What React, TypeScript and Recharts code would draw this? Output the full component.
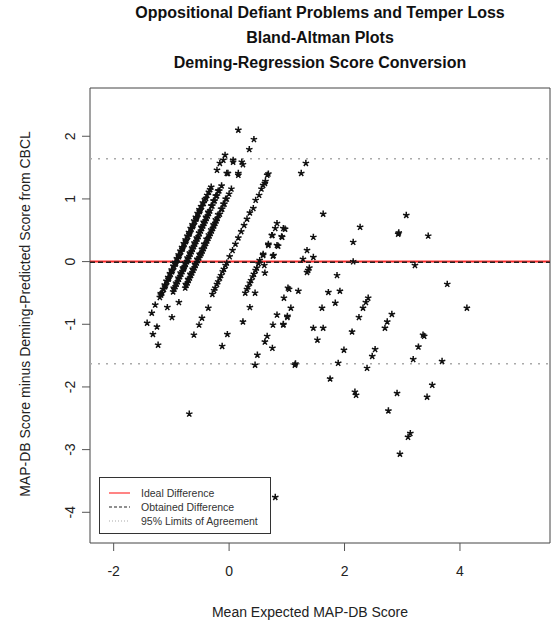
import { ScatterChart, Scatter, XAxis, YAxis, ReferenceLine, ReferenceArea } from 'recharts'

// ─── Data ────────────────────────────────────────────────────────────────────

type Pt = [number, number]

// dense diagonal bands (mean expected score, difference)
const bandA: Pt[] = [
  [-1.42, -0.98], [-1.34, -0.82], [-1.28, -0.69], [-1.25, -1.04], [-1.32, -1.16], [-1.23, -1.33],
  [-1.2, -0.57], [-1.18, -0.53], [-1.16, -0.5], [-1.13, -0.44], [-1.11, -0.4], [-1.1, -0.38],
  [-1.07, -0.32], [-1.05, -0.28], [-1.04, -0.26], [-1.01, -0.2], [-0.99, -0.16], [-0.98, -0.14],
  [-0.95, -0.08], [-0.93, -0.04], [-0.92, -0.02], [-0.89, 0.04], [-0.87, 0.08], [-0.86, 0.1],
  [-0.83, 0.16], [-0.81, 0.2], [-0.8, 0.22], [-0.77, 0.28], [-0.75, 0.32], [-0.74, 0.34],
  [-0.71, 0.4], [-0.69, 0.44], [-0.68, 0.46], [-0.65, 0.52], [-0.63, 0.56], [-0.62, 0.58],
  [-0.59, 0.64], [-0.57, 0.68], [-0.56, 0.7], [-0.53, 0.76], [-0.51, 0.8], [-0.5, 0.82],
  [-0.47, 0.88], [-0.44, 0.93], [-0.4, 1.01], [-0.35, 1.11], [-0.31, 1.19], [-0.21, 1.46],
  [-0.16, 1.57], [-0.07, 1.7], [-0.1, 1.62],
  [-1.185, -0.51], [-1.145, -0.44], [-1.115, -0.37], [-1.085, -0.31], [-1.055, -0.25], [-1.025, -0.19],
  [-0.995, -0.13], [-0.965, -0.07], [-0.935, -0.01], [-0.905, 0.05], [-0.875, 0.11], [-0.845, 0.17],
  [-0.815, 0.23], [-0.785, 0.29], [-0.755, 0.35], [-0.725, 0.41], [-0.695, 0.47], [-0.665, 0.53],
  [-0.635, 0.59], [-0.605, 0.65], [-0.575, 0.71], [-0.545, 0.77], [-0.515, 0.83], [-0.485, 0.88],
  [-0.455, 0.94], [-0.42, 0.99], [-0.38, 1.06], [-0.33, 1.15],
]

const bandB: Pt[] = [
  [-1.07, -0.73], [-0.99, -0.89], [-0.87, -0.65], [-0.78, -0.1],
  [-0.97, -0.48], [-0.95, -0.44], [-0.93, -0.4], [-0.91, -0.36], [-0.89, -0.32], [-0.87, -0.28],
  [-0.85, -0.24], [-0.83, -0.2], [-0.81, -0.16], [-0.79, -0.12], [-0.77, -0.08], [-0.75, -0.04],
  [-0.73, 0.0], [-0.71, 0.04], [-0.69, 0.08], [-0.67, 0.12], [-0.65, 0.16], [-0.63, 0.2],
  [-0.61, 0.24], [-0.59, 0.28], [-0.57, 0.32], [-0.55, 0.36], [-0.53, 0.4], [-0.51, 0.45],
  [-0.49, 0.49], [-0.47, 0.53], [-0.45, 0.57], [-0.43, 0.61], [-0.41, 0.65], [-0.39, 0.69],
  [-0.37, 0.73], [-0.35, 0.77], [-0.33, 0.81], [-0.29, 0.89], [-0.25, 0.97], [-0.21, 1.05],
  [-0.17, 1.13], [-0.13, 1.21], [-0.02, 1.41], [0.07, 1.59], [0.07, 1.62],
  [-0.96, -0.42], [-0.92, -0.34], [-0.88, -0.26], [-0.84, -0.18], [-0.8, -0.1], [-0.76, -0.02],
  [-0.72, 0.06], [-0.68, 0.14], [-0.64, 0.22], [-0.6, 0.3], [-0.56, 0.38], [-0.52, 0.46],
  [-0.48, 0.55], [-0.44, 0.63], [-0.4, 0.71], [-0.36, 0.79], [-0.31, 0.89], [-0.27, 0.97],
  [-0.23, 1.05], [-0.19, 1.13],
]

const bandC: Pt[] = [
  [-0.76, -0.42], [-0.74, -0.38], [-0.72, -0.34], [-0.7, -0.3], [-0.68, -0.26], [-0.66, -0.22],
  [-0.64, -0.18], [-0.62, -0.14], [-0.6, -0.1], [-0.58, -0.06], [-0.56, -0.02], [-0.54, 0.02],
  [-0.52, 0.06], [-0.5, 0.1], [-0.48, 0.13], [-0.46, 0.17], [-0.44, 0.21], [-0.42, 0.25],
  [-0.4, 0.29], [-0.38, 0.33], [-0.36, 0.37], [-0.34, 0.41], [-0.32, 0.45], [-0.3, 0.49],
  [-0.28, 0.53], [-0.26, 0.57], [-0.24, 0.61], [-0.22, 0.65], [-0.2, 0.69], [-0.16, 0.76],
  [-0.12, 0.84], [-0.08, 0.92], [-0.04, 1.0], [0.0, 1.08], [0.04, 1.16], [-0.04, 1.41],
  [0.16, 1.38], [0.16, 1.41], [0.22, 1.59], [0.24, 1.55],
  [-0.75, -0.36], [-0.71, -0.28], [-0.67, -0.2], [-0.63, -0.12], [-0.59, -0.04], [-0.55, 0.04],
  [-0.51, 0.12], [-0.47, 0.2], [-0.43, 0.28], [-0.39, 0.36], [-0.35, 0.43], [-0.31, 0.51],
  [-0.27, 0.59], [-0.23, 0.67], [-0.19, 0.75], [-0.14, 0.84], [-0.1, 0.92], [-0.06, 1.0],
]

const bandD: Pt[] = [
  [-0.61, -1.17], [-0.52, -1.01], [-0.47, -0.9], [-0.36, -0.74],
  [-0.29, -0.52], [-0.26, -0.46], [-0.24, -0.42], [-0.21, -0.36], [-0.19, -0.32], [-0.16, -0.26],
  [-0.14, -0.22], [-0.11, -0.16], [-0.09, -0.12], [-0.06, -0.06], [-0.04, -0.02], [0.01, 0.08],
  [0.06, 0.18], [0.11, 0.28], [0.16, 0.38], [0.21, 0.48], [0.26, 0.58], [0.31, 0.68],
  [0.36, 0.78], [0.42, 0.85], [0.46, 0.98], [0.52, 1.06], [0.56, 1.16], [0.59, 1.22],
  [0.62, 1.25], [0.63, 1.28], [0.66, 1.38], [0.68, 1.4],
]

const bandE: Pt[] = [
  [0.28, -0.5], [0.31, -0.44], [0.33, -0.4], [0.36, -0.34], [0.38, -0.3], [0.41, -0.24],
  [0.43, -0.2], [0.46, -0.14], [0.48, -0.1], [0.51, -0.03], [0.53, 0.02], [0.59, 0.1],
  [0.59, 0.12], [0.68, 0.26], [0.68, 0.28], [0.77, 0.1], [0.76, 0.09], [0.83, 0.26],
  [0.85, 0.25], [0.74, 0.42], [0.75, 0.42], [0.8, 0.53], [0.83, 0.61], [0.91, 0.4],
  [0.92, 0.39], [0.94, 0.53], [0.97, 0.52], [0.36, -0.73], [0.24, -0.96], [-0.03, -1.16],
  [-0.12, -1.35], [0.45, -0.5], [0.62, -0.18], [0.61, -0.06], [0.83, -0.85], [0.76, -1.01],
  [0.94, -1.01], [0.66, -1.19], [0.62, -1.28], [0.75, -1.38], [0.49, -1.49], [0.45, -1.65],
  [1.01, -0.89], [0.95, -0.58], [1.02, -0.42],
]

const scattered: Pt[] = [
  [0.16, 2.1], [0.43, 1.95], [0.35, 1.79], [1.33, 1.57], [1.25, 1.41], [1.63, 0.76],
  [1.46, 0.39], [1.35, 0.18], [1.46, 0.07], [1.28, 0.04], [1.39, -0.1], [2.27, 0.55],
  [2.15, 0.31], [2.15, 0.0], [3.07, 0.74], [2.93, 0.44], [2.94, 0.46], [3.45, 0.41],
  [3.22, -0.06], [1.37, -0.14], [1.35, -0.17], [1.87, -0.22], [1.04, -0.44], [1.2, -0.47],
  [1.72, -0.49], [1.92, -0.47], [1.84, -0.66], [1.07, -0.74], [1.01, -0.87], [0.94, -1.0],
  [1.61, -0.74], [2.41, -0.58], [2.37, -0.65], [2.32, -0.74], [2.25, -0.89], [1.46, -1.06],
  [1.63, -1.06], [1.53, -1.25], [2.13, -1.12], [2.82, -0.84], [2.74, -0.96], [2.7, -1.06],
  [3.38, -1.19], [3.28, -1.36], [3.19, -1.56], [1.99, -1.41], [1.89, -1.62], [2.53, -1.4],
  [2.48, -1.51], [2.39, -1.7], [1.14, -1.65], [1.15, -1.63], [1.75, -1.87], [2.18, -2.08],
  [2.2, -2.13], [2.91, -2.1], [2.76, -2.38], [3.14, -2.74], [3.1, -2.8], [2.96, -3.07],
  [3.52, -1.97], [3.43, -2.16], [3.69, -1.59], [3.36, -1.17], [3.78, -0.36], [4.12, -0.74],
  [-0.69, -2.43], [0.8, -3.76],
]

const X_DOMAIN: [number, number] = [-2.41, 5.56]
const Y_DOMAIN: [number, number] = [-4.49, 2.77]
const xTicks = [-2, 0, 2, 4]
const yTicks = [-4, -3, -2, -1, 0, 1, 2]

const idealDifference = 0
const obtainedDifference = -0.01
const limitsOfAgreement = [-1.63, 1.64]

const titleLines = [
  'Oppositional Defiant Problems and Temper Loss',
  'Bland-Altman Plots',
  'Deming-Regression Score Conversion',
]

const legendItems = [
  { label: 'Ideal Difference', color: '#ff3333', dash: undefined as string | undefined },
  { label: 'Obtained Difference', color: '#222', dash: '3 2' },
  { label: '95% Limits of Agreement', color: '#aaa', dash: '1 2' },
]

// ─── Helpers ─────────────────────────────────────────────────────────────────

const FONT = '"Liberation Sans", Arial, Helvetica, sans-serif'
const W = 551
const H = 626

const points = [...bandA, ...bandB, ...bandC, ...bandD, ...bandE, ...scattered].map(([x, y]) => ({ x, y }))

// eslint-disable-next-line @typescript-eslint/no-explicit-any
function StarShape(props: any) {
  const { cx, cy } = props
  if (cx == null || cy == null) return null
  const r = 3.4
  const d = [-90, -18, 54, 126, 198]
    .map((a) => {
      const t = (a * Math.PI) / 180
      return `M${cx},${cy}L${cx + r * Math.cos(t)},${cy + r * Math.sin(t)}`
    })
    .join('')
  return <path d={d} stroke="#111" strokeWidth={1.5} fill="none" />
}

// eslint-disable-next-line @typescript-eslint/no-explicit-any
function XTick(props: any) {
  const { x, y, payload } = props
  return (
    <text x={x} y={y + 23} textAnchor="middle" fontSize={14} fontFamily={FONT} fill="#222">
      {payload.value}
    </text>
  )
}

// eslint-disable-next-line @typescript-eslint/no-explicit-any
function YTick(props: any) {
  const { x, y, payload } = props
  const bx = x - 5
  return (
    <text
      x={bx}
      y={y}
      transform={`rotate(-90 ${bx} ${y})`}
      textAnchor="middle"
      fontSize={14}
      fontFamily={FONT}
      fill="#222"
    >
      {payload.value}
    </text>
  )
}

function LegendBox() {
  return (
    <g transform="translate(99 477)">
      <rect x={0.5} y={0.5} width={171} height={56} fill="#fff" stroke="#333" />
      {legendItems.map((it, i) => (
        <g key={it.label}>
          <line
            x1={10}
            x2={31}
            y1={16 + i * 14}
            y2={16 + i * 14}
            stroke={it.color}
            strokeWidth={1.2}
            strokeDasharray={it.dash}
          />
          <text x={42} y={20 + i * 14} fontSize={10.5} fontFamily={FONT} fill="#333">
            {it.label}
          </text>
        </g>
      ))}
    </g>
  )
}

// ─── Main ────────────────────────────────────────────────────────────────────

export default function App() {
  return (
    <div style={{ position: 'absolute', left: 0, top: 0, width: W, height: H, background: '#fff' }}>
      <ScatterChart width={W} height={H} margin={{ top: 88, right: 1, bottom: 33, left: 30 }}>
        <XAxis
          type="number"
          dataKey="x"
          domain={X_DOMAIN}
          ticks={xTicks}
          allowDataOverflow
          axisLine={false}
          tickLine={{ stroke: '#555' }}
          tickSize={8}
          height={50}
          tick={<XTick />}
        />
        <YAxis
          type="number"
          dataKey="y"
          domain={Y_DOMAIN}
          ticks={yTicks}
          allowDataOverflow
          axisLine={false}
          tickLine={{ stroke: '#555' }}
          tickSize={8}
          width={60}
          tick={<YTick />}
        />
        <ReferenceArea
          x1={X_DOMAIN[0]}
          x2={X_DOMAIN[1]}
          y1={Y_DOMAIN[0]}
          y2={Y_DOMAIN[1]}
          fill="none"
          stroke="#444"
          strokeWidth={1}
          ifOverflow="visible"
        />
        {limitsOfAgreement.map((v) => (
          <ReferenceLine key={v} y={v} stroke="#aaa" strokeWidth={1.5} strokeDasharray="2 6" />
        ))}
        <Scatter data={points} shape={<StarShape />} isAnimationActive={false} />
        <ReferenceLine y={idealDifference} stroke="#ff2a2a" strokeWidth={2} />
        <ReferenceLine y={obtainedDifference} stroke="#222" strokeWidth={1.5} strokeDasharray="5 3" />
      </ScatterChart>
      <svg
        width={W}
        height={H}
        style={{ position: 'absolute', left: 0, top: 0, pointerEvents: 'none' }}
      >
        <LegendBox />
        {titleLines.map((t, i) => (
          <text
            key={t}
            x={320}
            y={18 + i * 25}
            textAnchor="middle"
            fontSize={16}
            fontWeight="bold"
            fontFamily={FONT}
            fill="#111"
          >
            {t}
          </text>
        ))}
        <text x={310} y={617} textAnchor="middle" fontSize={14} fontFamily={FONT} fill="#222">
          Mean Expected MAP-DB Score
        </text>
        <text
          x={30}
          y={314}
          transform="rotate(-90 30 314)"
          textAnchor="middle"
          fontSize={14}
          fontFamily={FONT}
          fill="#222"
        >
          MAP-DB Score minus Deming-Predicted Score from CBCL
        </text>
      </svg>
    </div>
  )
}
